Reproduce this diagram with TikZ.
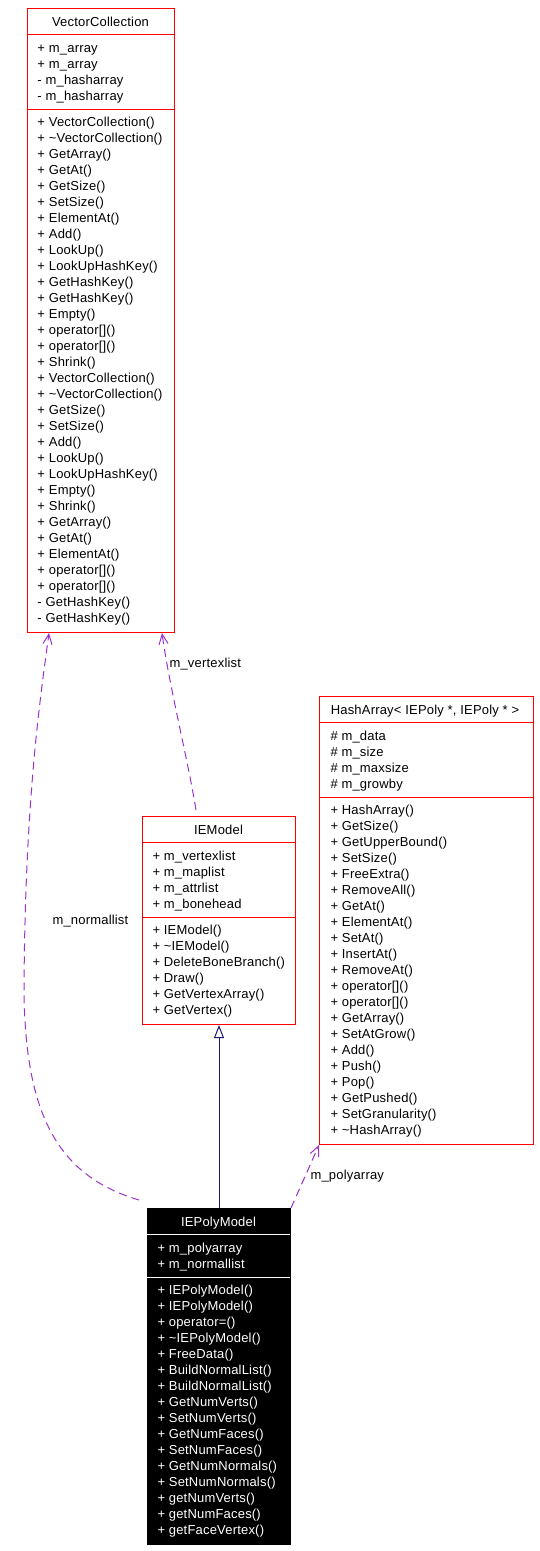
\documentclass[tikz,border=0pt]{standalone}
\usepackage{fontspec}
\setmainfont[LetterSpace=1.5]{Liberation Sans}
\usepackage{tikz}
\usetikzlibrary{arrows.meta,calc}

\definecolor{boxred}{RGB}{255,0,0}
\definecolor{usepurple}{RGB}{154,50,205}
\definecolor{inhblue}{RGB}{25,25,112}

\begin{document}
\begin{tikzpicture}[x=1pt, y=-1pt, line width=1pt,
    classbox/.style={draw=boxred, fill=white, anchor=north west, inner sep=0pt},
    member/.style={anchor=base west, inner sep=0pt, font=\fontsize{13}{16}\selectfont},
    title/.style={anchor=base, inner sep=0pt, font=\fontsize{13}{16}\selectfont},
    uses/.style={draw=usepurple, dash pattern=on 8pt off 5pt, -{Straight Barb[length=10pt, width=9pt]}},
    inherit/.style={draw=inhblue, -{Triangle[open, length=13pt, width=10pt]}}]
        \useasboundingbox (0,0) rectangle (540,1551);

        % Draw VectorCollection
        \node[classbox, minimum width=147, minimum height=624] (vc) at (27,8) {};
        \node[title] (vc-t) at (100.5,26) {VectorCollection};
        \draw[boxred] (27,34) -- (174,34);
        \draw[boxred] (27,109) -- (174,109);
        \foreach \t [count=\i] in {+ m\_array, + m\_array, - m\_hasharray, - m\_hasharray}
            \node[member] (vc-a\i) at (37,{52+16*(\i-1)}) {\t};
        \foreach \t [count=\i] in {+ VectorCollection(), + \textasciitilde VectorCollection(), + GetArray(),
            + GetAt(), + GetSize(), + SetSize(), + ElementAt(), + Add(), + LookUp(), + LookUpHashKey(),
            + GetHashKey(), + GetHashKey(), + Empty(), + operator[](), + operator[](), + Shrink(),
            + VectorCollection(), + \textasciitilde VectorCollection(), + GetSize(), + SetSize(), + Add(),
            + LookUp(), + LookUpHashKey(), + Empty(), + Shrink(), + GetArray(), + GetAt(), + ElementAt(),
            + operator[](), + operator[](), - GetHashKey(), - GetHashKey()}
            \node[member] (vc-m\i) at (37,{126+16*(\i-1)}) {\t};

        % Draw HashArray
        \node[classbox, minimum width=214, minimum height=448] (ha) at (319,696) {};
        \node[title] (ha-t) at (425,714) {HashArray< IEPoly *, IEPoly * >};
        \draw[boxred] (319,722) -- (533,722);
        \draw[boxred] (319,797) -- (533,797);
        \foreach \t [count=\i] in {\# m\_data, \# m\_size, \# m\_maxsize, \# m\_growby}
            \node[member] (ha-a\i) at (330,{740+16*(\i-1)}) {\t};
        \foreach \t [count=\i] in {+ HashArray(), + GetSize(), + GetUpperBound(), + SetSize(),
            + FreeExtra(), + RemoveAll(), + GetAt(), + ElementAt(), + SetAt(), + InsertAt(),
            + RemoveAt(), + operator[](), + operator[](), + GetArray(), + SetAtGrow(), + Add(),
            + Push(), + Pop(), + GetPushed(), + SetGranularity(), + \textasciitilde HashArray()}
            \node[member] (ha-m\i) at (330,{814+16*(\i-1)}) {\t};

        % Draw IEModel
        \node[classbox, minimum width=153, minimum height=208] (iem) at (142,816) {};
        \node[title] (iem-t) at (218.5,834) {IEModel};
        \draw[boxred] (142,842) -- (295,842);
        \draw[boxred] (142,917) -- (295,917);
        \foreach \t [count=\i] in {+ m\_vertexlist, + m\_maplist, + m\_attrlist, + m\_bonehead}
            \node[member] (iem-a\i) at (152,{860+16*(\i-1)}) {\t};
        \foreach \t [count=\i] in {+ IEModel(), + \textasciitilde IEModel(), + DeleteBoneBranch(),
            + Draw(), + GetVertexArray(), + GetVertex()}
            \node[member] (iem-m\i) at (152,{934+16*(\i-1)}) {\t};

        % Draw IEPolyModel (the class of this graph, filled black)
        \node[classbox, draw=black, fill=black, minimum width=143, minimum height=336] (iepm) at (147,1208) {};
        \node[title, text=white] (iepm-t) at (218.5,1226) {IEPolyModel};
        \draw[white] (147,1234) -- (290,1234);
        \draw[white] (147,1277) -- (290,1277);
        \foreach \t [count=\i] in {+ m\_polyarray, + m\_normallist}
            \node[member, text=white] (iepm-a\i) at (157,{1252+16*(\i-1)}) {\t};
        \foreach \t [count=\i] in {+ IEPolyModel(), + IEPolyModel(), + operator=(),
            + \textasciitilde IEPolyModel(), + FreeData(), + BuildNormalList(), + BuildNormalList(),
            + GetNumVerts(), + SetNumVerts(), + GetNumFaces(), + SetNumFaces(), + GetNumNormals(),
            + SetNumNormals(), + getNumVerts(), + getNumFaces(), + getFaceVertex()}
            \node[member, text=white] (iepm-m\i) at (157,{1294+16*(\i-1)}) {\t};

        % Draw inheritance edge
        \draw[inherit] (iepm.north) -- (iem.south);

        % Draw usage edges with their labels
        \draw[uses] ($(iem.north west)+(54,-6)$) .. controls (188,760) and (170,690) .. ($(vc.south west)+(135,0)$);
        \node[member] (lbl-vertex) at (169,667) {m\_vertexlist};

        \draw[uses] ($(iepm.north west)+(-8,-8)$) .. controls (58,1176) and (25,1115) .. (24,990)
            .. controls (25,800) and (40,700) .. ($(vc.south west)+(22,0)$);
        \node[member] (lbl-normal) at (52,924) {m\_normallist};

        \draw[uses] (iepm.north east) -- (ha.south west);
        \node[member] (lbl-poly) at (310,1179) {m\_polyarray};
      \end{tikzpicture}
\end{document}
